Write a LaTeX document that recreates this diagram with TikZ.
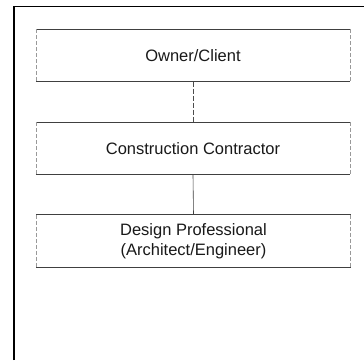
\documentclass[tikz,border=0pt]{standalone}
\usepackage{fontspec}
\setmainfont{Liberation Sans}
\begin{document}
\begin{tikzpicture}[x=1pt,y=-1pt,
  orgbox/.style={minimum width=314pt, minimum height=52pt, inner sep=0pt, align=center, font=\fontsize{16.5}{20}\selectfont, text=black!90},
  hedge/.style={draw=black!75, line width=0.8pt},
  vedge/.style={draw=black!40, line width=0.6pt, dashed, dash pattern=on 4pt off 2pt},
  link/.style={draw=black!70, line width=0.6pt, dash pattern=on 5pt off 2pt},
  frame/.style={draw=black, line width=1.4pt}]
\useasboundingbox (0,0) rectangle (364,360);
\fill[white] (0,0) rectangle (364,360);
\coordinate (fbl) at (14,360);
\coordinate (ftl) at (14,6.5);
\coordinate (ftr) at (364,6.5);
\draw[frame] (fbl) -- (ftl) -- (ftr);
\node[orgbox] (owner) at (193,55.5) {Owner/Client};
\node[orgbox] (contr) at (193,148.5) {Construction Contractor};
\node[orgbox] (design) at (193.5,241) {Design Professional\\(Architect/Engineer)};
\foreach \b in {owner,contr,design}{
  \draw[hedge] (\b.north west) -- (\b.north east);
  \draw[hedge] (\b.south west) -- (\b.south east);
  \draw[vedge] (\b.north west) -- (\b.south west);
  \draw[vedge] (\b.north east) -- (\b.south east);
}
\draw[link] (owner.south) -- (contr.north);
\draw[draw=black!75, line width=0.6pt] (contr.south) -- (design.north);
\end{tikzpicture}
\end{document}
